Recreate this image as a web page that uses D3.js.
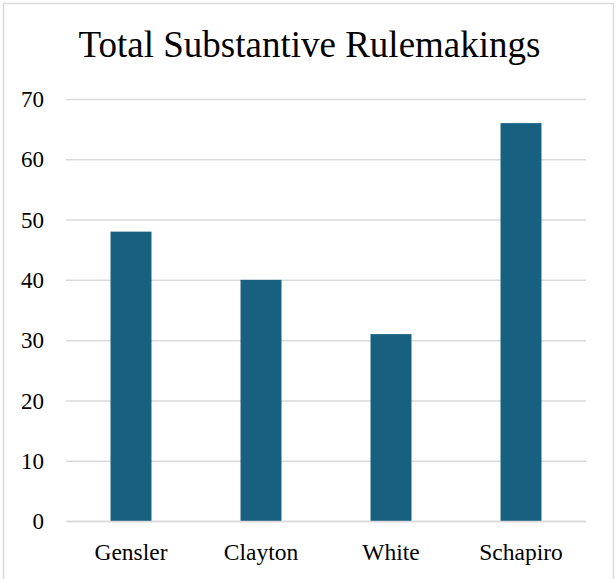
<!DOCTYPE html>
<html>
<head>
<meta charset="utf-8">
<script src="https://cdn.jsdelivr.net/npm/d3@7"></script>
<style>
  html, body { margin: 0; padding: 0; background: #ffffff; }
  svg { display: block; }
  svg text { font-family: "Liberation Serif", "Times New Roman", serif !important; fill: #000000; }
</style>
</head>
<body>
<svg id="chart" width="616" height="579"></svg>
<script>
// Chart data
const chairs = ["Gensler", "Clayton", "White", "Schapiro"];
const rulemakings = [48, 40, 31, 66];
const yTicks = [0, 10, 20, 30, 40, 50, 60, 70];
const chartTitle = "Total Substantive Rulemakings";

const svg = d3.select("#chart");

// Outer frame (open at the bottom edge)
svg.append("path")
  .attr("d", "M3.5,581 V3.5 H613.5 V581")
  .attr("fill", "none")
  .attr("stroke", "#d9d9d9")
  .attr("stroke-width", 1.5);

const x = d3.scaleBand()
  .domain(chairs)
  .range([66, 586])
  .paddingInner(0.685)
  .paddingOuter(0.3425);

const y = d3.scaleLinear()
  .domain([0, 70])
  .range([521, 99]);

// Title
svg.append("text")
  .attr("x", 309.5)
  .attr("y", 57)
  .attr("text-anchor", "middle")
  .style("font-size", "37px")
  .text(chartTitle);

// Horizontal gridlines and value labels
const yAxis = d3.axisLeft(y)
  .tickValues(yTicks)
  .tickSize(-(586 - 66))
  .tickPadding(22);

const gy = svg.append("g")
  .attr("transform", "translate(66,0)")
  .call(yAxis);
gy.select(".domain").remove();
gy.selectAll(".tick line")
  .attr("stroke", "#d9d9d9")
  .attr("stroke-width", 1.5);
gy.selectAll(".tick text")
  .style("font-size", "23px")
  .attr("dy", "0.33em");

// Bars
svg.append("g")
  .selectAll("rect")
  .data(chairs)
  .join("rect")
  .attr("x", d => x(d))
  .attr("width", x.bandwidth())
  .attr("y", (d, i) => y(rulemakings[i]))
  .attr("height", (d, i) => y(0) - y(rulemakings[i]))
  .attr("fill", "#17607f");

// Category axis
const xAxis = d3.axisBottom(x).tickSize(0).tickPadding(22);
const gx = svg.append("g")
  .attr("transform", `translate(0,${y(0)})`)
  .call(xAxis);
gx.select(".domain")
  .attr("stroke", "#d9d9d9")
  .attr("stroke-width", 1.5);
gx.selectAll(".tick text")
  .style("font-size", "23.5px")
  .attr("dy", "0.71em");
</script>
</body>
</html>
